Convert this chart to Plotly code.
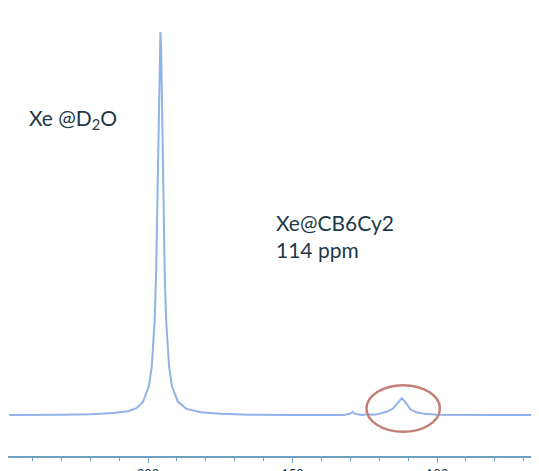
import plotly.graph_objects as go

# Chemical shift (ppm) and intensity
ppm = [248, 240, 230, 220, 212, 207, 204, 201.7, 199.7, 198.7, 197.7, 197.2,
       196.7, 196.45, 196.2, 195.95, 195.7, 195.45, 195.2, 194.95, 194.7,
       194.2, 193.7, 192.7, 191.7, 189.7, 186.7, 181.7, 175, 165, 150, 140,
       132, 130, 129.2, 128.4, 126, 124.2, 122, 120.2, 117.2, 115.2, 114.2,
       113.2, 112.2, 111.2, 110.2, 109.2, 107.2, 104.2, 100, 90, 80, 64.7]
intensity = [0, 0, 0.001, 0.002, 0.005, 0.010, 0.018, 0.035, 0.075, 0.126,
             0.245, 0.366, 0.565, 0.698, 0.839, 0.954, 1.0, 0.954, 0.839,
             0.698, 0.565, 0.366, 0.245, 0.126, 0.075, 0.035, 0.016, 0.007,
             0.003, 0.001, 0, 0, 0, 0.004, 0.008, 0.003, 0, 0.002, 0.001,
             0.003, 0.009, 0.017, 0.026, 0.037, 0.044, 0.036, 0.024, 0.015,
             0.007, 0.003, 0.001, 0, 0, 0]

tick_vals = [200, 150, 100]
tick_text = ["200", "150", "100"]

label_d2o = "Xe @D<sub>2</sub>O"
label_cb6 = "Xe@CB6Cy2<br>114 ppm"

W, H = 531, 463          # page body has an 8px margin
PH = 448                 # plot height (fig px)

fig = go.Figure()
fig.add_trace(go.Scatter(x=ppm, y=intensity, mode="lines",
                         line=dict(color="#8fb3e8", width=2),
                         hoverinfo="skip", showlegend=False))

# circle around the Xe@CB6Cy2 signal
fig.add_shape(type="circle", xref="x", yref="y",
              x0=124.4, x1=99.0, y0=-0.044, y1=0.078,
              line=dict(color="#c47f76", width=2.5))

txt_font = dict(family="Lato, Calibri, sans-serif", size=21, color="#1e3a48")
fig.add_annotation(text=label_d2o, xref="paper", yref="paper",
                   x=(27 - 8) / W, y=(PH - 111) / PH,
                   xanchor="left", yanchor="middle", showarrow=False,
                   font=txt_font)
fig.add_annotation(text=label_cb6, xref="paper", yref="paper",
                   x=(274 - 8) / W, y=(PH - 228) / PH,
                   xanchor="left", yanchor="middle", showarrow=False,
                   align="left", font=txt_font)

fig.update_layout(
    width=W, height=H,
    margin=dict(l=0, r=0, t=0, b=H - PH),
    paper_bgcolor="white", plot_bgcolor="white",
    xaxis=dict(range=[248.44, 64.71], showgrid=False, zeroline=False,
               showline=True, linecolor="#6f9fc0", linewidth=1.5,
               ticks="outside", ticklen=5, tickcolor="#6f9fc0",
               tickvals=tick_vals, ticktext=tick_text,
               ticklabelstandoff=1,
               tickfont=dict(family="Lato, sans-serif", size=13, color="#1e3a48"),
               minor=dict(dtick=10, ticks="outside", ticklen=3,
                          tickcolor="#6f9fc0"),
               automargin=False, fixedrange=True),
    yaxis=dict(range=[-0.107, 1.0627], visible=False, fixedrange=True),
)

fig.write_html("out.html")
